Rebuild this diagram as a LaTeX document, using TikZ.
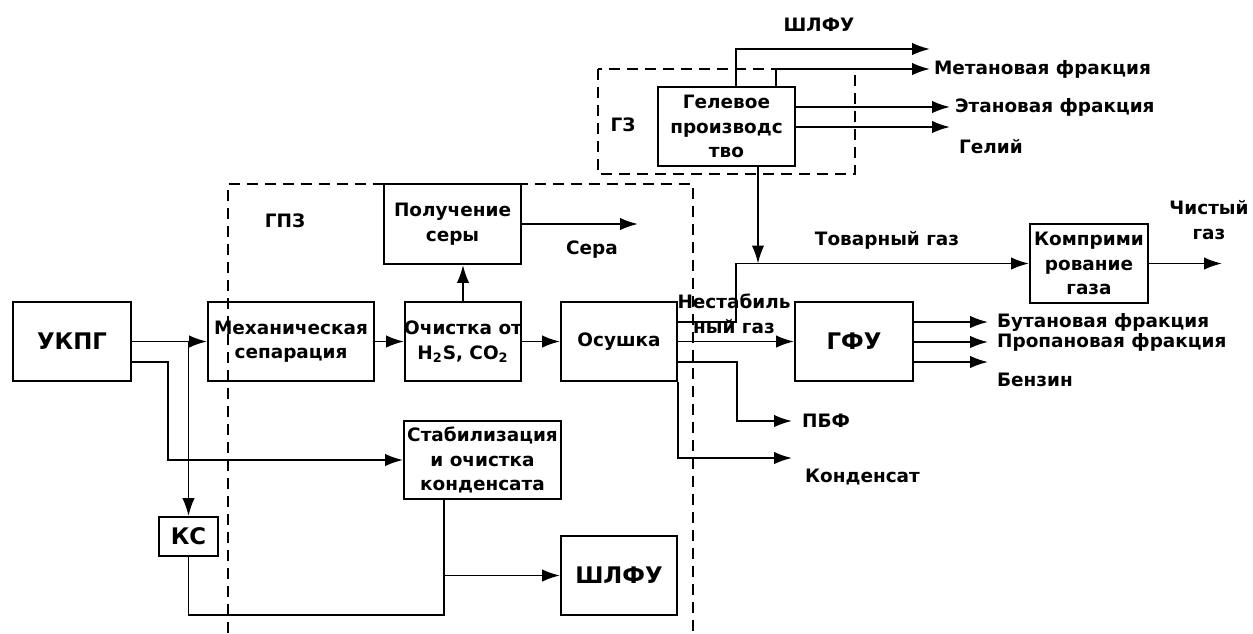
\documentclass[tikz,border=0pt]{standalone}
\usepackage{fontspec}
\setmainfont{DejaVu Sans}
\usetikzlibrary{arrows.meta}
\begin{document}
\begin{tikzpicture}[x=0.02cm, y=-0.02cm, >={Latex[length=0.36cm,width=0.25cm]},
	every node/.style={font=\bfseries\fontsize{10.5}{14}\selectfont, inner sep=1pt},
	blok/.style={draw, line width=1.1pt, align=center, minimum height=1.58cm},
	bigtxt/.style={font=\bfseries\fontsize{13}{15}\selectfont},
	potok/.style={line width=1.1pt},
	granica/.style={line width=0.9pt, dash pattern=on 0.22cm off 0.14cm}]
	
	\useasboundingbox (0,0) rectangle (1253,633);
	
	% Границы ГПЗ и ГЗ
	\draw[granica] (228,633) -- (228,184) -- (693,184) -- (693,633);
	\draw[granica] (598,69) rectangle (855,174);
	\node (gpzlbl) at (285,221) {ГПЗ};
	\node (gzlbl) at (623,125) {ГЗ};
	
	% Блоки
	\node[blok, bigtxt, minimum width=2.36cm] (ukpg) at (72,341.5) {УКПГ};
	\node[blok, minimum width=3.32cm] (mech) at (291,341.5) {Механическая\\сепарация};
	\node[blok, minimum width=2.32cm, inner xsep=-2pt] (ochist) at (463,341.5) {Очистка от\\H\textsubscript{2}S, CO\textsubscript{2}};
	\node[blok, minimum width=2.74cm, minimum height=1.6cm] (sera) at (452.5,224) {Получение\\серы};
	\node[blok, minimum width=2.32cm] (osush) at (619,341.5) {Осушка};
	\node[blok, minimum width=2.74cm] (gel) at (726.5,126.5) {Гелевое\\производс\\тво};
	\node[blok, bigtxt, minimum width=2.36cm] (gfu) at (854,341.5) {ГФУ};
	\node[blok, minimum width=2.36cm] (komp) at (1089,263.5) {Комприми\\рование\\газа};
	\node[blok, minimum width=3.14cm, minimum height=1.56cm] (stab) at (482.5,460) {Стабилизация\\и очистка\\конденсата};
	\node[blok, bigtxt, minimum width=1.18cm, minimum height=0.78cm] (ks) at (188.5,536.5) {КС};
	\node[blok, bigtxt, minimum width=2.32cm] (shlfu) at (619,575.5) {ШЛФУ};
	
	% Концы стрелок и точки изломов
	\coordinate (b1) at (188.5,341.5);
	\coordinate (k1) at (168,362);
	\coordinate (serat) at (638,224);
	\coordinate (tg) at (736,263.5);
	\coordinate (gd) at (758,263.5);
	\coordinate (shl) at (930,49);
	\coordinate (met) at (930,69);
	\coordinate (et) at (950,107);
	\coordinate (he) at (950,127);
	\coordinate (but) at (988,322);
	\coordinate (pr) at (988,342);
	\coordinate (bz) at (988,362);
	\coordinate (pbf) at (792,421);
	\coordinate (kond) at (792,458);
	\coordinate (cg) at (1222,263.5);
	\coordinate (sb) at (444,615);
	
	% Потоки ГПЗ
	\draw[potok, ->] (ukpg) -- (mech);
	\draw[potok, ->] (b1) -- (ks);
	\draw[potok, ->] (ukpg.east |- k1) -- (k1) |- (stab);
	\draw[potok, ->] (mech) -- (ochist);
	\draw[potok, ->] (ochist.north) -- (ochist.north |- sera.south);
	\draw[potok, ->] (ochist) -- (osush);
	\draw[potok, ->] (sera.east |- serat) -- (serat);
	\draw[potok] (ks) |- (sb) -- (sb |- stab.south);
	\draw[potok, ->] (sb |- shlfu) -- (shlfu);
	
	% Потоки после осушки
	\draw[potok, ->] (osush.east |- 0,322) -| (tg) -- (komp);
	\draw[potok, ->] (osush) -- (gfu);
	\draw[potok, ->] (osush.east |- 0,362) -- (737,362) |- (pbf);
	\draw[potok, ->] (osush.south east) |- (kond);
	\draw[potok, ->] (gel.south -| gd) -- (gd);
	\draw[potok, ->] (komp) -- (cg);
	
	% Гелевое производство
	\draw[potok, ->] (gel.north -| tg) |- (shl);
	\draw[potok, ->] (gel.north -| 776,0) |- (met);
	\draw[potok, ->] (gel.east |- et) -- (et);
	\draw[potok, ->] (gel.east |- he) -- (he);
	
	% ГФУ
	\draw[potok, ->] (gfu.east |- but) -- (but);
	\draw[potok, ->] (gfu.east |- pr) -- (pr);
	\draw[potok, ->] (gfu.east |- bz) -- (bz);
	
	% Подписи потоков
	\node (seralbl) at (592,250) {Сера};
	\node (shllbl) at (819,25) {ШЛФУ};
	\node[anchor=west] (metlbl) at (932,69) {Метановая фракция};
	\node[anchor=west] (etlbl) at (953,107) {Этановая фракция};
	\node[anchor=west] (helbl) at (957,147) {Гелий};
	\node (tglbl) at (887,240) {Товарный газ};
	\node[align=center] (cglbl) at (1209,220) {Чистый\\газ};
	\node[align=center] (nestlbl) at (734,314) {Нестабиль\\ный газ};
	\node[anchor=west] (butlbl) at (995,322) {Бутановая фракция};
	\node[anchor=west] (prlbl) at (995,342) {Пропановая фракция};
	\node[anchor=west] (bzlbl) at (995,380) {Бензин};
	\node[anchor=west] (pbflbl) at (800,421) {ПБФ};
	\node[anchor=west] (kondlbl) at (803,477) {Конденсат};
	
\end{tikzpicture}
\end{document}
